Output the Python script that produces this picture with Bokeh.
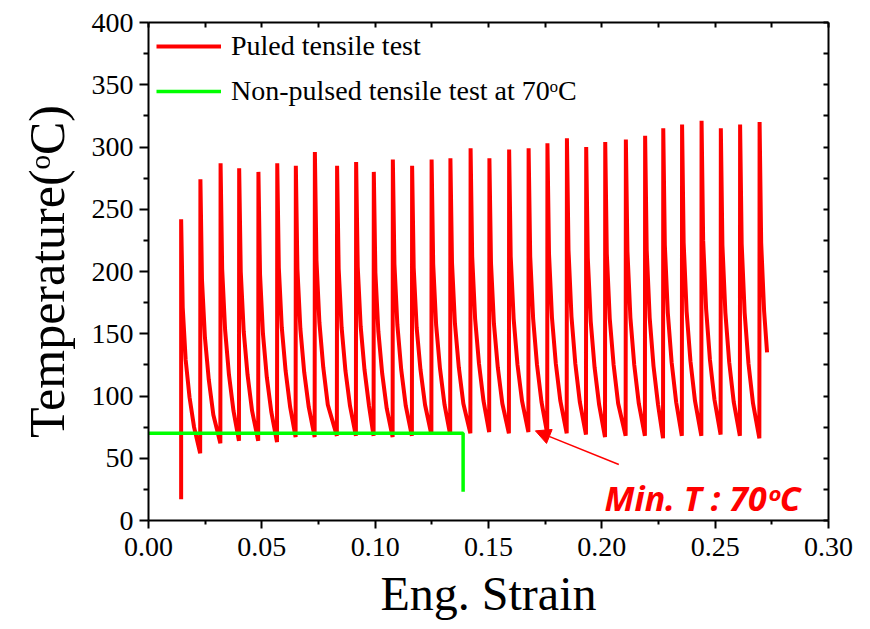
from bokeh.plotting import figure
from bokeh.models import (Range1d, LinearAxis, FixedTicker, NumeralTickFormatter,
                          Legend, LegendItem, Label, Arrow, NormalHead)
from bokeh.embed import file_html
from bokeh.resources import INLINE

# ---------------- data ----------------
# Pulsed tensile test: strain / temperature trace (one row per pulse cycle)
STRAIN = [
    0.0144,
    0.0144, 0.0151, 0.0164, 0.0181, 0.0201, 0.0228,
    0.0229, 0.0236, 0.0249, 0.0266, 0.0286, 0.0317,
    0.0318, 0.0325, 0.0338, 0.0355, 0.0375, 0.0399,
    0.0400, 0.0407, 0.0420, 0.0437, 0.0457, 0.0484,
    0.0485, 0.0492, 0.0505, 0.0522, 0.0542, 0.0567,
    0.0568, 0.0575, 0.0588, 0.0605, 0.0625, 0.0649,
    0.0650, 0.0657, 0.0670, 0.0687, 0.0707, 0.0733,
    0.0734, 0.0741, 0.0754, 0.0771, 0.0791, 0.0831,
    0.0832, 0.0839, 0.0852, 0.0869, 0.0889, 0.0915,
    0.0916, 0.0923, 0.0936, 0.0953, 0.0973, 0.0993,
    0.0994, 0.1001, 0.1014, 0.1031, 0.1051, 0.1077,
    0.1078, 0.1085, 0.1098, 0.1115, 0.1135, 0.1162,
    0.1163, 0.1170, 0.1183, 0.1200, 0.1220, 0.1248,
    0.1249, 0.1256, 0.1269, 0.1286, 0.1306, 0.1331,
    0.1332, 0.1339, 0.1352, 0.1369, 0.1389, 0.1420,
    0.1421, 0.1428, 0.1441, 0.1458, 0.1478, 0.1503,
    0.1504, 0.1511, 0.1524, 0.1541, 0.1561, 0.1590,
    0.1591, 0.1598, 0.1611, 0.1628, 0.1648, 0.1676,
    0.1677, 0.1684, 0.1697, 0.1714, 0.1734, 0.1759,
    0.1760, 0.1767, 0.1780, 0.1797, 0.1817, 0.1845,
    0.1846, 0.1853, 0.1866, 0.1883, 0.1903, 0.1930,
    0.1931, 0.1938, 0.1951, 0.1968, 0.1988, 0.2014,
    0.2015, 0.2022, 0.2035, 0.2052, 0.2072, 0.2105,
    0.2106, 0.2113, 0.2126, 0.2143, 0.2163, 0.2190,
    0.2191, 0.2198, 0.2211, 0.2228, 0.2248, 0.2270,
    0.2271, 0.2278, 0.2291, 0.2308, 0.2328, 0.2353,
    0.2354, 0.2361, 0.2374, 0.2391, 0.2411, 0.2439,
    0.2440, 0.2447, 0.2460, 0.2477, 0.2497, 0.2524,
    0.2525, 0.2532, 0.2545, 0.2562, 0.2582, 0.2609,
    0.2610, 0.2617, 0.2630, 0.2647, 0.2667, 0.2695,
    0.2696, 0.2703, 0.2716, 0.2729,
]
TEMP = [
    17,
    242, 171, 129, 99, 75, 54,
    274, 193, 147, 113, 85, 62,
    287, 202, 153, 117, 88, 64,
    283, 200, 152, 117, 88, 64,
    280, 198, 150, 115, 87, 63,
    287, 203, 155, 120, 91, 67,
    285, 202, 154, 119, 91, 67,
    296, 209, 159, 123, 93, 68,
    285, 202, 155, 120, 92, 68,
    288, 204, 156, 121, 92, 68,
    280, 199, 152, 118, 90, 67,
    290, 206, 157, 121, 92, 68,
    285, 203, 155, 121, 93, 69,
    290, 206, 157, 122, 93, 69,
    291, 207, 158, 123, 94, 70,
    299, 212, 162, 126, 96, 71,
    291, 207, 158, 123, 94, 70,
    298, 212, 162, 125, 96, 71,
    299, 212, 162, 125, 95, 70,
    303, 214, 163, 126, 96, 70,
    307, 217, 164, 126, 95, 69,
    300, 211, 160, 123, 93, 67,
    304, 214, 162, 125, 94, 68,
    306, 216, 163, 125, 94, 68,
    309, 217, 163, 124, 93, 66,
    315, 221, 167, 127, 95, 68,
    318, 223, 168, 128, 96, 68,
    321, 225, 170, 129, 97, 69,
    315, 221, 167, 127, 95, 68,
    318, 222, 167, 126, 94, 66,
    320, 223, 168, 135,
]

# Non-pulsed tensile test at 70 C
GREEN_STRAIN = [0.0, 0.1388, 0.1388]
GREEN_TEMP = [70, 70, 23]

X_TICKS = [0.00, 0.05, 0.10, 0.15, 0.20, 0.25, 0.30]
X_MINOR = [0.025, 0.075, 0.125, 0.175, 0.225, 0.275]
Y_TICKS = [0, 50, 100, 150, 200, 250, 300, 350, 400]
Y_MINOR = [25, 75, 125, 175, 225, 275, 325, 375]

LEGEND_LABELS = ["Puled tensile test", "Non-pulsed tensile test at 70\u1d52C"]
X_LABEL = "Eng. Strain"
Y_LABEL = "Temperature(\u1d52C)"
ANNOT_TEXT = "Min. T : 70\u1d52C"

# ---------------- positions / styles ----------------
ANNOT_POS = (0.2012, 18)
ARROW_FROM = (0.2075, 45)
ARROW_TO = (0.1707, 72)

SERIF = "Liberation Serif"

p = figure(width=862, height=629, output_backend="svg", toolbar_location=None,
           x_range=Range1d(0, 0.30), y_range=Range1d(0, 400),
           min_border_left=148, min_border_right=34, min_border_top=22,
           min_border_bottom=109)
p.xgrid.visible = False
p.ygrid.visible = False
p.outline_line_color = None
p.background_fill_color = "white"
p.border_fill_color = "white"

xa = p.xaxis[0]
ya = p.yaxis[0]
xa.ticker = FixedTicker(ticks=X_TICKS, minor_ticks=X_MINOR)
ya.ticker = FixedTicker(ticks=Y_TICKS, minor_ticks=Y_MINOR)
xa.formatter = NumeralTickFormatter(format="0.00")
for ax, lab, size in ((xa, X_LABEL, "48px"), (ya, Y_LABEL, "50px")):
    ax.axis_label = lab
    ax.axis_label_text_font = SERIF
    ax.axis_label_text_font_size = size
    ax.axis_label_text_font_style = "normal"
    ax.axis_label_text_color = "black"
    ax.major_label_text_font = SERIF
    ax.major_label_text_font_size = "28px"
    ax.major_label_text_color = "black"
    ax.axis_line_width = 2
    ax.major_tick_line_width = 2
    ax.minor_tick_line_width = 2
    ax.major_tick_in = 0
    ax.minor_tick_in = 0
xa.major_tick_out = 8
xa.minor_tick_out = 4
xa.major_label_standoff = 9
xa.axis_label_standoff = 8
ya.major_tick_out = 9
ya.minor_tick_out = 5
ya.major_label_standoff = 6
ya.axis_label_standoff = 14

top = LinearAxis(ticker=FixedTicker(ticks=X_TICKS, minor_ticks=X_MINOR))
right = LinearAxis(ticker=FixedTicker(ticks=Y_TICKS, minor_ticks=Y_MINOR))
for ax in (top, right):
    ax.major_label_text_color = None
    ax.major_label_text_font_size = "10px"
    ax.major_label_standoff = 0
    ax.major_tick_out = 0
    ax.minor_tick_out = 0
    ax.major_tick_in = 5
    ax.minor_tick_in = 5
    ax.axis_line_width = 2
    ax.major_tick_line_width = 2
    ax.minor_tick_line_width = 2
p.add_layout(top, "above")
p.add_layout(right, "right")

r_red = p.line(STRAIN, TEMP, line_color="#ff0000", line_width=4)
r_green = p.line(GREEN_STRAIN, GREEN_TEMP, line_color="#00ff00", line_width=3.5)

legend = Legend(items=[LegendItem(label=LEGEND_LABELS[0], renderers=[r_red]),
                       LegendItem(label=LEGEND_LABELS[1], renderers=[r_green])],
                location="top_left")
legend.label_text_font = SERIF
legend.label_text_font_size = "28px"
legend.label_text_color = "black"
legend.glyph_width = 65
legend.glyph_height = 20
legend.label_standoff = 10
legend.spacing = 13
legend.padding = 8
legend.margin = 0
legend.border_line_alpha = 0
legend.background_fill_alpha = 0
p.add_layout(legend)

p.add_layout(Arrow(end=NormalHead(size=15, fill_color="#ff0000", line_color="#ff0000"),
                   x_start=ARROW_FROM[0], y_start=ARROW_FROM[1],
                   x_end=ARROW_TO[0], y_end=ARROW_TO[1],
                   line_color="#ff0000", line_width=1.5))
p.add_layout(Label(x=ANNOT_POS[0], y=ANNOT_POS[1], text=ANNOT_TEXT,
                   text_color="#ff0000", text_font="Noto Sans",
                   text_font_style="bold italic", text_font_size="34px",
                   text_baseline="alphabetic"))

open("out.html", "w").write(file_html(p, INLINE))
